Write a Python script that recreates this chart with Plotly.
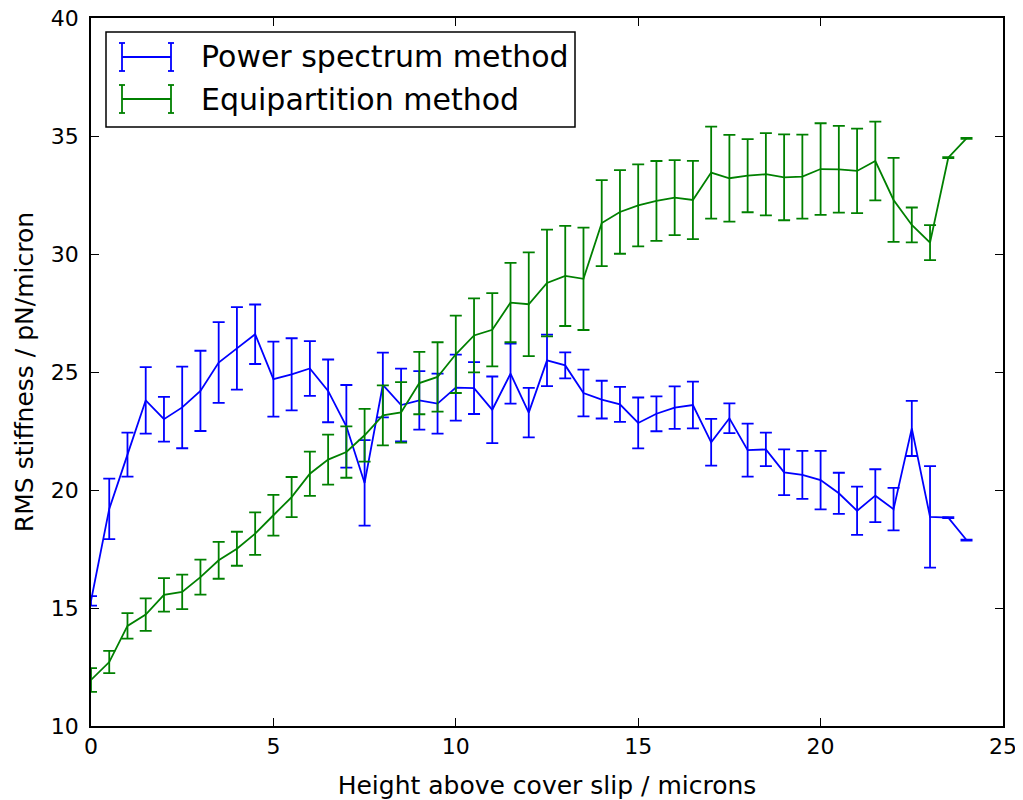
import plotly.graph_objects as go

heights = [i * 0.5 for i in range(49)]

power_vals = [15.3, 19.2, 21.5, 23.8, 23.0, 23.5, 24.2, 25.4, 26.0, 26.6,
              24.7, 24.9, 25.15, 24.2, 22.7, 20.3, 24.45, 23.6, 23.8, 23.66,
              24.34, 24.32, 23.4, 24.93, 23.28, 25.49, 25.28, 24.11, 23.83, 23.63,
              22.84, 23.23, 23.49, 23.6, 22.02, 23.04, 21.69, 21.72, 20.75, 20.64,
              20.42, 19.86, 19.12, 19.76, 19.19, 22.61, 18.86, 18.83, 17.88]
power_err = [0.2, 1.28, 0.93, 1.41, 0.95, 1.73, 1.7, 1.71, 1.75, 1.26,
             1.59, 1.53, 1.16, 1.33, 1.75, 1.81, 1.37, 1.54, 1.24, 1.27,
             1.4, 1.1, 1.41, 1.27, 1.05, 1.09, 0.55, 0.99, 0.8, 0.74,
             1.08, 0.74, 0.9, 0.99, 0.99, 0.63, 1.12, 0.71, 0.97, 1.02,
             1.24, 0.87, 1.02, 1.12, 0.9, 1.17, 2.15, 0.02, 0.02]

equi_vals = [11.95, 12.71, 14.24, 14.72, 15.56, 15.68, 16.31, 17.02, 17.51, 18.15,
             18.93, 19.7, 20.69, 21.29, 21.61, 22.32, 23.16, 23.29, 24.53, 24.79,
             25.75, 26.55, 26.79, 27.94, 27.87, 28.77, 29.07, 28.95, 31.31, 31.78,
             32.06, 32.25, 32.39, 32.29, 33.45, 33.21, 33.32, 33.38, 33.25, 33.28,
             33.6, 33.59, 33.52, 33.94, 32.29, 31.23, 30.48, 34.08, 34.9]
equi_err = [0.5, 0.47, 0.54, 0.69, 0.71, 0.73, 0.74, 0.78, 0.72, 0.9,
            0.86, 0.85, 0.94, 1.06, 1.09, 1.12, 1.27, 1.28, 1.32, 1.47,
            1.64, 1.57, 1.55, 1.68, 2.2, 2.26, 2.12, 2.17, 1.82, 1.77,
            1.74, 1.69, 1.59, 1.66, 1.95, 1.84, 1.55, 1.74, 1.82, 1.78,
            1.94, 1.84, 1.79, 1.67, 1.78, 0.74, 0.74, 0.02, 0.02]

series_names = ["Power spectrum method", "Equipartition method"]
x_ticks = [0, 5, 10, 15, 20, 25]
y_ticks = [10, 15, 20, 25, 30, 35, 40]

BLUE = "#0000ff"
GREEN = "#008000"
COLORS = [BLUE, GREEN]
FONT = "DejaVu Sans"

fig = go.Figure()
for name, vals, errs, col in zip(series_names, [power_vals, equi_vals],
                                 [power_err, equi_err], COLORS):
    fig.add_trace(go.Scatter(
        x=heights, y=vals, mode="lines", name=name, showlegend=False,
        line=dict(color=col, width=1.8),
        error_y=dict(type="data", array=errs, color=col, thickness=1.8, width=6),
    ))

axis_common = dict(
    showgrid=False, zeroline=False, showline=True, linecolor="black", linewidth=1.5,
    mirror="allticks", ticks="inside", ticklen=8, tickwidth=1, tickcolor="black",
    tickfont=dict(family=FONT, size=22, color="black"), automargin=False,
    ticklabeloverflow="allow",
)

fig.update_xaxes(range=[0, 25], tickvals=x_ticks, ticktext=[str(v) for v in x_ticks],
                 title=dict(text="Height above cover slip / microns",
                            font=dict(family=FONT, size=25, color="black"), standoff=21),
                 **axis_common)
fig.update_yaxes(range=[10, 40], tickvals=y_ticks, ticktext=[str(v) for v in y_ticks],
                 ticklabelstandoff=6,
                 title=dict(text="RMS stiffness / pN/micron",
                            font=dict(family=FONT, size=25, color="black"), standoff=10),
                 **axis_common)

# Legend drawn as layout decoration (matplotlib-style errorbar handles)
PL, PR, PT, PB = 91.0, 1003.0, 18.0, 726.0   # plot area in window pixels


def px(xp):
    return (xp - PL) / (PR - PL)


def py(yp):
    return (PB - yp) / (PB - PT)


shapes = [dict(type="rect", xref="paper", yref="paper", layer="above",
               x0=px(106), x1=px(575), y0=py(127), y1=py(32),
               fillcolor="white", line=dict(color="black", width=1.5))]
annotations = []
row_centers = [57, 99]
for name, col, yc in zip(series_names, COLORS, row_centers):
    lw = dict(color=col, width=1.8)
    shapes.append(dict(type="line", xref="paper", yref="paper", layer="above",
                       x0=px(122), x1=px(171), y0=py(yc), y1=py(yc), line=lw))
    for xc in (122, 171):
        shapes.append(dict(type="line", xref="paper", yref="paper", layer="above",
                           x0=px(xc), x1=px(xc), y0=py(yc - 14), y1=py(yc + 14), line=lw))
        for yy in (yc - 14, yc + 14):
            shapes.append(dict(type="line", xref="paper", yref="paper", layer="above",
                               x0=px(xc - 3), x1=px(xc + 3), y0=py(yy), y1=py(yy), line=lw))
    annotations.append(dict(text=name, xref="paper", yref="paper", showarrow=False,
                            x=px(199), y=py(yc), xanchor="left", yanchor="middle",
                            font=dict(family=FONT, size=30, color="black")))

fig.update_layout(
    width=1015, height=792,
    margin=dict(l=83, r=20, t=10, b=74, autoexpand=False),
    plot_bgcolor="white", paper_bgcolor="white",
    font=dict(family=FONT, color="black"),
    showlegend=False,
    shapes=shapes,
    annotations=annotations,
)

fig.write_html("out.html")
